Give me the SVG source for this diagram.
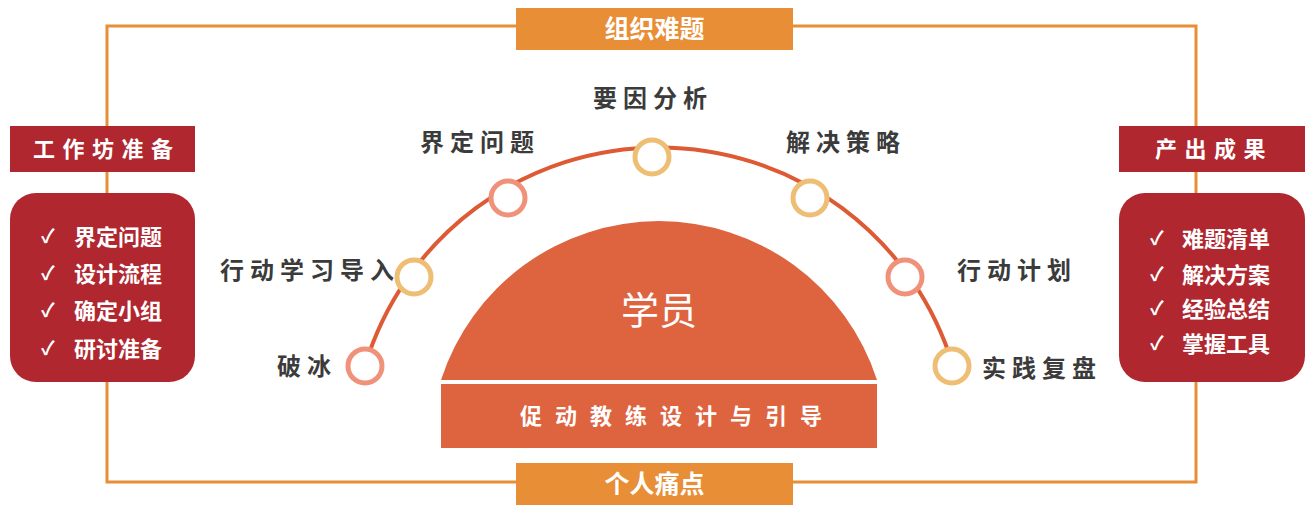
<svg xmlns="http://www.w3.org/2000/svg" width="1316" height="512" viewBox="0 0 1316 512">
<style>
.t{font-family:"Noto Sans CJK SC","Noto Sans",sans-serif;font-weight:700}
.lbl{fill:#3b3b3b;font-size:24px;letter-spacing:6px}
.wh{fill:#fff}
.hdr{fill:#b0272f}
.org{fill:#e88e36}
.dot{fill:#fff;stroke-width:5}
.s{stroke:#f0927a}
.g{stroke:#edbe73}
.li{font-size:22px}
.ck{font-size:19px}
</style>
<rect width="1316" height="512" fill="#fff"/>
<g id="frame">
<rect x="107" y="26" width="1089" height="456" fill="none" stroke="#e88e36" stroke-width="3"/>
</g>
<g id="top">
<rect class="org" x="516" y="8" width="277" height="42"/>
<text class="t wh" x="654.5" y="38" font-size="25" text-anchor="middle">组织难题</text>
</g>
<g id="bottom">
<rect class="org" x="516" y="463" width="277" height="42"/>
<text class="t wh" x="654.5" y="493" font-size="25" text-anchor="middle">个人痛点</text>
</g>
<g id="left-header">
<rect class="hdr" x="10" y="126" width="185" height="46"/>
<text class="t wh" x="33" y="157" font-size="22" letter-spacing="7.5">工作坊准备</text>
</g>
<g id="left-list">
<rect class="hdr" x="10" y="193" width="185" height="189" rx="26"/>
<text class="t wh ck" x="41" y="243">✓</text>
<text class="t wh li" x="74" y="245">界定问题</text>
<text class="t wh ck" x="41" y="280">✓</text>
<text class="t wh li" x="74" y="281.5">设计流程</text>
<text class="t wh ck" x="41" y="317">✓</text>
<text class="t wh li" x="74" y="319">确定小组</text>
<text class="t wh ck" x="41" y="355">✓</text>
<text class="t wh li" x="74" y="357">研讨准备</text>
</g>
<g id="right-header">
<rect class="hdr" x="1119" y="126" width="186" height="46"/>
<text class="t wh" x="1155" y="157" font-size="22" letter-spacing="7.5">产出成果</text>
</g>
<g id="right-list">
<rect class="hdr" x="1119" y="193" width="186" height="189" rx="26"/>
<text class="t wh ck" x="1150" y="245">✓</text>
<text class="t wh li" x="1182" y="247">难题清单</text>
<text class="t wh ck" x="1150" y="281">✓</text>
<text class="t wh li" x="1182" y="283">解决方案</text>
<text class="t wh ck" x="1150" y="315">✓</text>
<text class="t wh li" x="1182" y="316.5">经验总结</text>
<text class="t wh ck" x="1150" y="350">✓</text>
<text class="t wh li" x="1182" y="351.5">掌握工具</text>
</g>
<g id="connectors">
<path d="M365,366 A307,307 0 0 1 953,366" fill="none" stroke="#dd5a34" stroke-width="4"/>
</g>
<g id="dome">
<path d="M441,380 A229,229 0 0 1 877,380 Z" fill="#de6440"/>
<text class="wh" x="659" y="324" font-family="'Noto Sans CJK SC',sans-serif" font-size="38" text-anchor="middle">学员</text>
</g>
<g id="base">
<rect x="441" y="384" width="436" height="64" fill="#de6440"/>
<text class="t wh" x="520" y="424" font-size="22" letter-spacing="13">促动教练设计与引导</text>
</g>
<g id="n1"><circle class="dot s" cx="365" cy="366" r="17"/><text class="t lbl" x="277" y="375" letter-spacing="8">破冰</text></g>
<g id="n2"><circle class="dot g" cx="414" cy="277" r="17"/><text class="t lbl" x="220" y="279" letter-spacing="5">行动学习导入</text></g>
<g id="n3"><circle class="dot s" cx="508" cy="198" r="17"/><text class="t lbl" x="420" y="151">界定问题</text></g>
<g id="n4"><circle class="dot g" cx="652" cy="157" r="17"/><text class="t lbl" x="593" y="107">要因分析</text></g>
<g id="n5"><circle class="dot g" cx="810" cy="198" r="17"/><text class="t lbl" x="786" y="151">解决策略</text></g>
<g id="n6"><circle class="dot s" cx="905" cy="277" r="17"/><text class="t lbl" x="957" y="279">行动计划</text></g>
<g id="n7"><circle class="dot g" cx="952" cy="366" r="17"/><text class="t lbl" x="982" y="377">实践复盘</text></g>
</svg>
